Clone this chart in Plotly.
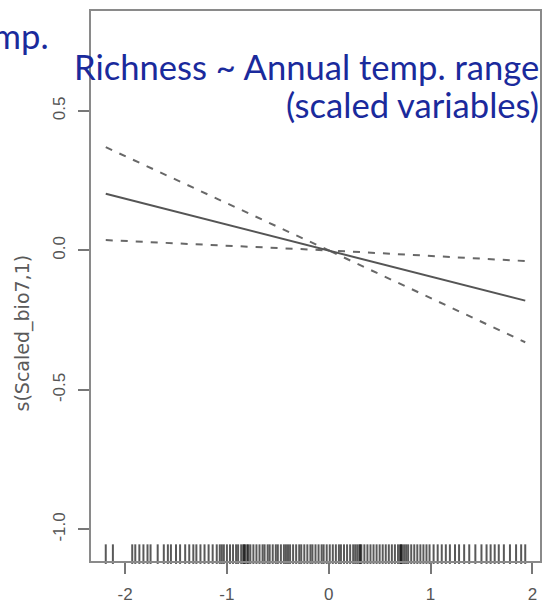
import plotly.graph_objects as go

# ---- data ----
x_grid = [-2.19, 0.0, 1.93]
fit = [0.203, 0.0, -0.180]
upper = [0.370, 0.0, -0.038]
lower = [0.037, 0.0, -0.329]

rug_x = [-2.19, -2.12, -1.93, -1.90, -1.86, -1.82, -1.78, -1.75, -1.68, -1.62,
         -1.58, -1.55, -1.50, -1.46, -1.41, -1.37, -1.33, -1.30, -1.26, -1.22,
         -1.18, -1.14, -1.10, -1.07, -1.05, -1.03, -1.00, -0.97, -0.94, -0.91,
         -0.89, -0.86, -0.84, -0.83, -0.82, -0.80, -0.79, -0.77, -0.74, -0.71,
         -0.68, -0.65, -0.63, -0.60, -0.58, -0.55, -0.52, -0.50, -0.47, -0.44,
         -0.42, -0.40, -0.38, -0.35, -0.32, -0.29, -0.27, -0.24, -0.21, -0.18,
         -0.16, -0.13, -0.10, -0.07, -0.05, -0.02, 0.01, 0.04, 0.07, 0.10,
         0.12, 0.15, 0.18, 0.21, 0.24, 0.26, 0.28, 0.30, 0.31, 0.32, 0.35,
         0.38, 0.41, 0.44, 0.47, 0.50, 0.53, 0.56, 0.59, 0.62, 0.65, 0.68,
         0.70, 0.71, 0.72, 0.74, 0.76, 0.78, 0.81, 0.84, 0.87, 0.90, 0.93,
         0.96, 0.99, 1.03, 1.07, 1.11, 1.15, 1.19, 1.24, 1.28, 1.33, 1.38,
         1.44, 1.50, 1.55, 1.59, 1.63, 1.67, 1.72, 1.78, 1.84, 1.89, 1.93]

x_ticks = [-2, -1, 0, 1, 2]
x_ticktext = ["-2", "-1", "0", "1", "2"]
y_ticks = [-1.0, -0.5, 0.0, 0.5]
y_ticktext = ["-1.0", "-0.5", "0.0", "0.5"]

x_range = [-2.335, 2.075]
y_range = [-1.113, 0.858]

title_line1 = "Richness ~ Annual temp. range"
title_line2 = "(scaled variables)"
y_title = "s(Scaled_bio7,1)"

# ---- figure ----
W, H = 551, 613
ml, mr, mt, mb = 91, 9, 10, 43
plot_h = H - mt - mb
px_per_unit = plot_h / (y_range[1] - y_range[0])
rug_len = 14
rug_y = y_range[0] + (rug_len / 2) / px_per_unit

fig = go.Figure()
fig.add_trace(go.Scatter(x=x_grid, y=upper, mode="lines",
                         line=dict(color="#686868", width=2, dash="7px,8px"),
                         hoverinfo="skip"))
fig.add_trace(go.Scatter(x=x_grid, y=lower, mode="lines",
                         line=dict(color="#686868", width=2, dash="7px,8px"),
                         hoverinfo="skip"))
fig.add_trace(go.Scatter(x=x_grid, y=fit, mode="lines",
                         line=dict(color="#555555", width=2),
                         hoverinfo="skip"))
fig.add_trace(go.Scatter(x=rug_x, y=[rug_y] * len(rug_x), mode="markers",
                         marker=dict(symbol="line-ns", size=rug_len,
                                     line=dict(color="rgba(0,0,0,0.65)", width=2)),
                         hoverinfo="skip", cliponaxis=False))

axis_common = dict(showline=True, mirror=True, linecolor="#8a8a8a", linewidth=2,
                   showgrid=False, zeroline=False, ticks="outside", ticklen=11,
                   tickwidth=1.5, tickcolor="#777777")
tick_font = dict(family="Liberation Sans", size=17, color="#555555")

fig.update_xaxes(range=x_range, tickvals=x_ticks, ticktext=x_ticktext,
                 ticklabelstandoff=6, tickfont=tick_font, **axis_common)
fig.update_yaxes(range=y_range, tickvals=y_ticks, ticktext=y_ticktext,
                 tickangle=-90, ticklabelstandoff=6, tickfont=tick_font,
                 **axis_common)

blue = "#1a2a9c"
tfont = dict(family="Lato", size=34.6, color=blue)

def py(p):
    return (H - mb - p) / plot_h

def px(p):
    return (p - ml) / (W - ml - mr)

fig.add_annotation(text=title_line1, xref="paper", yref="paper",
                   x=px(543), y=py(67), xanchor="right", yanchor="middle",
                   showarrow=False, font=tfont)
fig.add_annotation(text=title_line2, xref="paper", yref="paper",
                   x=px(543), y=py(105), xanchor="right", yanchor="middle",
                   showarrow=False, font=tfont)
fig.add_annotation(text="temp.", xref="paper", yref="paper",
                   x=px(51), y=py(35), xanchor="right", yanchor="middle",
                   showarrow=False, font=tfont)
fig.add_annotation(text=y_title, xref="paper", yref="paper",
                   x=px(22), y=py(338), xanchor="center", yanchor="middle",
                   textangle=-90, showarrow=False,
                   font=dict(family="DejaVu Sans", size=19, color="#5a5a5a"))

fig.update_layout(width=W, height=H, margin=dict(l=ml, r=mr, t=mt, b=mb),
                  paper_bgcolor="white", plot_bgcolor="white", showlegend=False)

fig.write_html("out.html")
